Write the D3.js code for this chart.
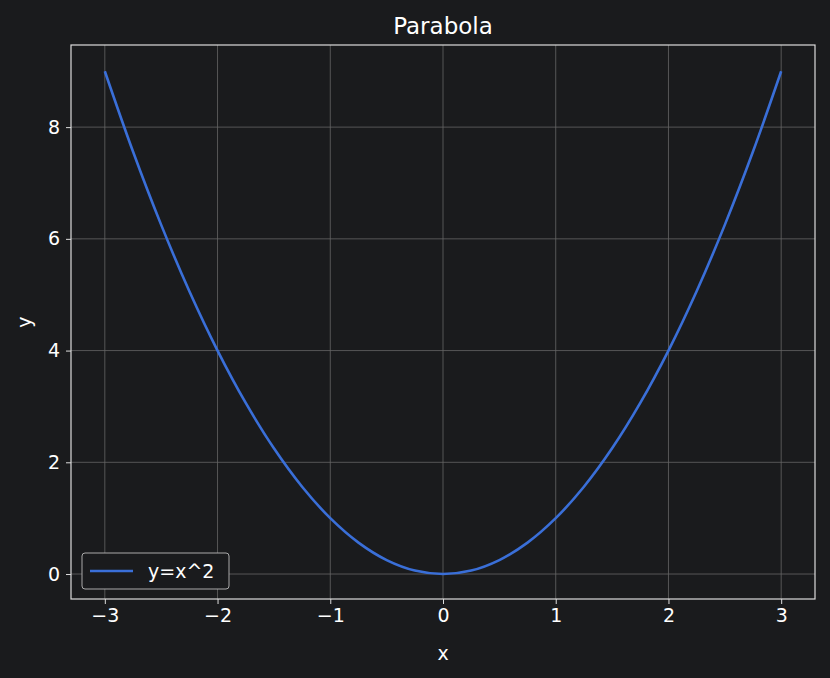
<!DOCTYPE html>
<html><head><meta charset="utf-8">
<script src="https://cdn.jsdelivr.net/npm/d3@7"></script>
<style>body{margin:0;background:#1a1b1d;}text{font-family:"DejaVu Sans",sans-serif;}</style>
</head><body><svg id="c" width="830" height="678"></svg>
<script>
const xValues = [-3,-2.75,-2.5,-2.25,-2,-1.75,-1.5,-1.25,-1,-0.75,-0.5,-0.25,0,0.25,0.5,0.75,1,1.25,1.5,1.75,2,2.25,2.5,2.75,3];
const yValues = [9,7.5625,6.25,5.0625,4,3.0625,2.25,1.5625,1,0.5625,0.25,0.0625,0,0.0625,0.25,0.5625,1,1.5625,2.25,3.0625,4,5.0625,6.25,7.5625,9];
const xTicks = [-3,-2,-1,0,1,2,3];
const yTicks = [0,2,4,6,8];
const seriesName = "y=x^2";

const svg = d3.select("#c");
svg.append("rect").attr("width",830).attr("height",678).attr("fill","#1a1b1d");
const L=71,R=815,T=45,B=599;
const x = d3.scaleLinear().domain([-3.3,3.3]).range([L,R]);
const y = d3.scaleLinear().domain([-0.447,9.47]).range([B,T]);
const g = svg.append("g");
xTicks.forEach(t=>g.append("line").attr("x1",x(t)).attr("x2",x(t)).attr("y1",T).attr("y2",B).attr("stroke","#666").attr("stroke-width",0.8));
yTicks.forEach(t=>g.append("line").attr("y1",y(t)).attr("y2",y(t)).attr("x1",L).attr("x2",R).attr("stroke","#666").attr("stroke-width",0.8));
const pts = xValues.map((v,i)=>[v,yValues[i]]);
g.append("path").datum(pts).attr("fill","none").attr("stroke","#3a6fd8").attr("stroke-width",2.6)
 .attr("d",d3.line().x(d=>x(d[0])).y(d=>y(d[1])).curve(d3.curveCatmullRom));
g.append("rect").attr("x",L).attr("y",T).attr("width",R-L).attr("height",B-T).attr("fill","none").attr("stroke","#ddd").attr("stroke-width",1.2);
const fmt = d=>String(d).replace("-","\u2212");
const xa = svg.append("g").attr("transform",`translate(0,${B})`).call(d3.axisBottom(x).tickValues(xTicks).tickSize(5).tickPadding(5).tickFormat(fmt));
const ya = svg.append("g").attr("transform",`translate(${L},0)`).call(d3.axisLeft(y).tickValues(yTicks).tickSize(5).tickPadding(6).tickFormat(fmt));
[xa,ya].forEach(a=>{a.select(".domain").remove();a.selectAll("line").attr("stroke","#ddd");a.selectAll("text").attr("fill","#fff").attr("font-size",19).attr("font-family","DejaVu Sans");});
svg.append("text").attr("x",443).attr("y",34).attr("text-anchor","middle").attr("fill","#fff").attr("font-size",23).text("Parabola");
svg.append("text").attr("x",443).attr("y",660).attr("text-anchor","middle").attr("fill","#fff").attr("font-size",19).text("x");
svg.append("text").attr("transform","translate(31,322) rotate(-90)").attr("text-anchor","middle").attr("fill","#fff").attr("font-size",19).text("y");
const lg = svg.append("g");
lg.append("rect").attr("x",82).attr("y",553).attr("width",147).attr("height",36).attr("rx",3).attr("fill","#1a1b1d").attr("stroke","#aaa");
lg.append("line").attr("x1",90).attr("x2",133).attr("y1",571).attr("y2",571).attr("stroke","#3a6fd8").attr("stroke-width",2.6);
lg.append("text").attr("x",148).attr("y",578).attr("fill","#fff").attr("font-size",19).text(seriesName);
</script></body></html>
